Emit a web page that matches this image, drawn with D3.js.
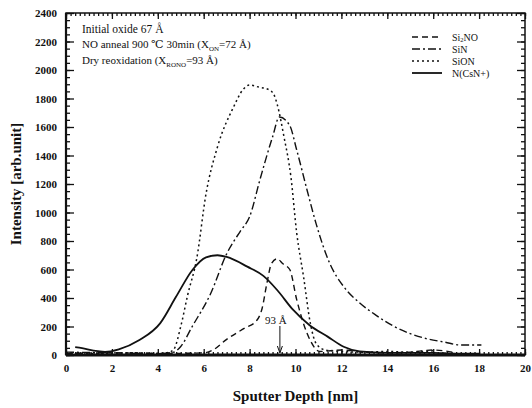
<!DOCTYPE html>
<html>
<head>
<meta charset="utf-8">
<script src="https://cdn.jsdelivr.net/npm/d3@7"></script>
<style>
body { margin: 0; background: #fff; }
svg text { font-family: "Liberation Serif", "DejaVu Serif", serif; fill: #111; }
</style>
</head>
<body>
<script>
// data
const si2noX = [0, 2, 4, 6, 6.4, 7.0, 7.8, 8.3, 8.55, 8.75, 8.95, 9.2, 9.45, 9.75, 10.05, 10.35, 10.65, 11.05, 12, 13, 14, 15, 16, 17]
const si2noY = [10, 15, 10, 15, 35, 110, 190, 240, 330, 500, 640, 675, 640, 600, 390, 220, 100, 25, 35, 20, 15, 20, 35, 15]

const sinX = [0, 2, 4, 4.7, 5.0, 5.5, 6.3, 7.0, 7.6, 8.0, 8.45, 9.0, 9.3, 9.75, 10.05, 10.5, 10.9, 11.5, 12.1, 12.8, 13.5, 14.3, 15.0, 15.7, 16.5, 17.2, 18.1]
const sinY = [20, 15, 10, 20, 60, 200, 430, 710, 870, 970, 1230, 1530, 1670, 1610, 1440, 1160, 920, 640, 480, 365, 280, 200, 150, 115, 90, 70, 70]

const sionX = [0, 1, 2, 3, 4, 4.5, 4.7, 5.0, 5.3, 5.7, 6.1, 6.6, 7.3, 7.7, 8.0, 8.4, 8.8, 9.05, 9.2, 9.5, 9.8, 10.05, 10.35, 10.65, 10.9, 11.3, 12, 13, 14, 15, 16]
const sionY = [15, 10, 12, 15, 10, 20, 40, 200, 420, 680, 1130, 1460, 1740, 1860, 1895, 1880, 1865, 1830, 1760, 1530, 1250, 860, 550, 220, 80, 35, 25, 20, 25, 20, 30]

const nX = [0.4, 0.7, 1.2, 1.7, 2.3, 3.2, 4.1, 4.8, 5.5, 6.1, 6.6, 7.0, 7.9, 8.6, 9.2, 9.9, 10.6, 11.4, 12.1, 12.8, 14, 15, 16, 17, 18]
const nY = [55, 48, 30, 22, 40, 105, 222, 410, 595, 685, 700, 688, 620, 555, 456, 316, 211, 129, 58, 25, 15, 15, 15, 10, 10]

const xTicks = [0, 2, 4, 6, 8, 10, 12, 14, 16, 18, 20]
const yTicks = [0, 200, 400, 600, 800, 1000, 1200, 1400, 1600, 1800, 2000, 2200, 2400]

const seriesNames = ['Si2NO', 'SiN', 'SiON', 'N(CsN+)']
const dashes = ['6,4', '8,3,2,3', '2,3', null]
const widths = [1.4, 1.4, 1.5, 1.8]

const arrowDepth = 9.32

const W = 532, H = 408
const mLeft = 66, mRight = 525, mTop = 13, mBottom = 355

const svg = d3.select(document.body)
    .append('svg')
    .attr('width', W)
    .attr('height', H)

const x = d3.scaleLinear().domain([0, 20]).range([mLeft, mRight])
const y = d3.scaleLinear().domain([0, 2400]).range([mBottom, mTop])

// ticks (inward, all four sides)
const xMinor = d3.range(0, 20.001, 0.2)
const yMinor = d3.range(0, 2400.1, 50)

const g = svg.append('g')
g.append('g')
    .attr('transform', `translate(0,${mBottom})`)
    .call(d3.axisBottom(x).tickValues(xMinor).tickSize(-3).tickFormat(''))
g.append('g')
    .attr('transform', `translate(0,${mBottom})`)
    .call(d3.axisBottom(x).tickValues(xTicks).tickSize(-6).tickFormat(d3.format('d')).tickPadding(9))
g.append('g')
    .attr('transform', `translate(0,${mTop})`)
    .call(d3.axisTop(x).tickValues(xMinor).tickSize(-3).tickFormat(''))
g.append('g')
    .attr('transform', `translate(0,${mTop})`)
    .call(d3.axisTop(x).tickValues(xTicks).tickSize(-6).tickFormat(''))
g.append('g')
    .attr('transform', `translate(${mLeft},0)`)
    .call(d3.axisLeft(y).tickValues(yMinor).tickSize(-4).tickFormat(''))
g.append('g')
    .attr('transform', `translate(${mLeft},0)`)
    .call(d3.axisLeft(y).tickValues(yTicks).tickSize(-8).tickFormat(d3.format('d')).tickPadding(9))
g.append('g')
    .attr('transform', `translate(${mRight},0)`)
    .call(d3.axisRight(y).tickValues(yMinor).tickSize(-4).tickFormat(''))
g.append('g')
    .attr('transform', `translate(${mRight},0)`)
    .call(d3.axisRight(y).tickValues(yTicks).tickSize(-8).tickFormat(''))

g.selectAll('.domain').remove()
g.selectAll('.tick line').attr('stroke', '#111').attr('stroke-width', 1.3)
g.selectAll('.tick text')
    .style('font-family', '"Liberation Serif", serif')
    .style('font-size', '11px')
    .style('font-weight', 'bold')
    .attr('fill', '#111')

// frame
svg.append('rect')
    .attr('x', mLeft).attr('y', mTop)
    .attr('width', mRight - mLeft).attr('height', mBottom - mTop)
    .attr('fill', 'none').attr('stroke', '#111').attr('stroke-width', 1.5)
svg.append('line')
    .attr('x1', mLeft).attr('x2', mRight).attr('y1', mBottom).attr('y2', mBottom)
    .attr('stroke', '#111').attr('stroke-width', 3)
svg.append('line')
    .attr('x1', mLeft).attr('x2', mLeft).attr('y1', mTop).attr('y2', mBottom)
    .attr('stroke', '#111').attr('stroke-width', 2.2)

// curves
const allX = [si2noX, sinX, sionX, nX]
const allY = [si2noY, sinY, sionY, nY]
const line = d3.line()
    .x(function(d){ return x(d[0]) })
    .y(function(d){ return y(d[1]) })
    .curve(d3.curveMonotoneX)

allX.forEach(function(xs, i){
    const pts = xs.map(function(v, j){ return [v, allY[i][j]] })
    svg.append('path')
        .attr('d', line(pts))
        .attr('fill', 'none')
        .attr('stroke', '#111')
        .attr('stroke-width', widths[i])
        .attr('stroke-dasharray', dashes[i])
})

// arrow 93 A
svg.append('line')
    .attr('x1', x(arrowDepth)).attr('x2', x(arrowDepth))
    .attr('y1', 326).attr('y2', mBottom - 3)
    .attr('stroke', '#111').attr('stroke-width', 1)
svg.append('path')
    .attr('d', `M${x(arrowDepth) - 2.5},${mBottom - 9} L${x(arrowDepth)},${mBottom - 2} L${x(arrowDepth) + 2.5},${mBottom - 9}`)
    .attr('fill', 'none').attr('stroke', '#111').attr('stroke-width', 1)
svg.append('text')
    .attr('x', x(arrowDepth) - 4).attr('y', 324)
    .attr('text-anchor', 'middle')
    .style('font-size', '11px')
    .text('93 Å')

// legend
const leg = svg.append('g').attr('transform', 'translate(412,37)')
seriesNames.forEach(function(name, i){
    const row = leg.append('g').attr('transform', `translate(0,${i * 12})`)
    row.append('line')
        .attr('x1', 0).attr('x2', 30).attr('y1', 0).attr('y2', 0)
        .attr('stroke', '#111').attr('stroke-width', widths[i])
        .attr('stroke-dasharray', dashes[i])
    const t = row.append('text').attr('x', 40).attr('y', 3.5).style('font-size', '10px')
    if (name === 'Si2NO') {
        t.append('tspan').text('Si')
        t.append('tspan').attr('dy', 1.5).style('font-size', '6.5px').text('2')
        t.append('tspan').attr('dy', -1.5).text('NO')
    } else {
        t.text(name)
    }
})

// notes
const notes = svg.append('g').attr('transform', 'translate(82,0)')
notes.append('text').attr('y', 33).style('font-size', '11.5px').text('Initial oxide 67 Å')
const n2 = notes.append('text').attr('y', 48).style('font-size', '11px')
n2.append('tspan').text('NO anneal 900 ℃  30min  (X')
n2.append('tspan').attr('dy', 3).style('font-size', '7px').text('ON')
n2.append('tspan').attr('dy', -3).text('=72 Å)')
const n3 = notes.append('text').attr('y', 64).style('font-size', '11px')
n3.append('tspan').text('Dry reoxidation (X')
n3.append('tspan').attr('dy', 3).style('font-size', '7px').text('RONO')
n3.append('tspan').attr('dy', -3).text('=93 Å)')

// axis titles
svg.append('text')
    .attr('x', (mLeft + mRight) / 2).attr('y', 401)
    .attr('text-anchor', 'middle')
    .style('font-size', '15px').style('font-weight', 'bold')
    .text('Sputter Depth [nm]')
svg.append('text')
    .attr('transform', `translate(21,${(mTop + mBottom) / 2}) rotate(-90)`)
    .attr('text-anchor', 'middle')
    .style('font-size', '15px').style('font-weight', 'bold')
    .text('Intensity [arb.unit]')
</script>
</body>
</html>
